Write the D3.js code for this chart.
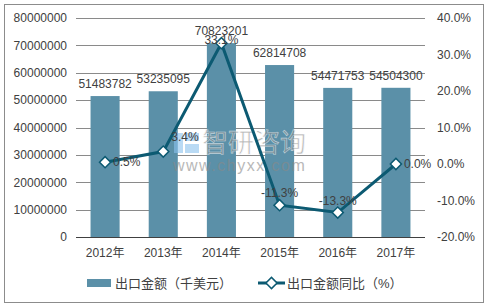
<!DOCTYPE html>
<html>
<head>
<meta charset="utf-8">
<script src="https://cdn.jsdelivr.net/npm/d3@7"></script>
<style>
  body { margin: 0; background: #fff; }
  text { font-family: "Liberation Sans", Arial, "Noto Sans CJK SC", sans-serif; fill: #404040; }
</style>
</head>
<body>
<div id="chart"></div>
<script>
// data
var years = ["2012年", "2013年", "2014年", "2015年", "2016年", "2017年"];
var exportValue = [51483782, 53235095, 70823201, 62814708, 54471753, 54504300];
var yoyPct = [0.5, 3.4, 33.1, -11.3, -13.3, 0.0];
var leftTicks = [0, 10000000, 20000000, 30000000, 40000000, 50000000, 60000000, 70000000, 80000000];
var rightTicks = [-20, -10, 0, 10, 20, 30, 40];
var legendNames = ["出口金额（千美元）", "出口金额同比（%）"];

// where each percentage label sits next to its marker
var labelPos = ["right", "rightUp", "top", "top", "top", "right"];

var W = 488, H = 307;
var barColor = "#5b90a8", lineColor = "#0c5a72";
var plot = {left: 76, right: 425, top: 18, bottom: 237};

var svg = d3.select("#chart").append("svg")
    .attr("width", W).attr("height", H);

svg.append("rect")
    .attr("x", 4.5).attr("y", 4.5)
    .attr("width", 479).attr("height", 298)
    .attr("fill", "#fff").attr("stroke", "#8c8c8c");

var x = d3.scaleBand().domain(years)
    .range([plot.left, plot.right])
    .paddingInner(0.5).paddingOuter(0.25);
var yL = d3.scaleLinear().domain([0, 80000000]).range([plot.bottom, plot.top]);
var yR = d3.scaleLinear().domain([-20, 40]).range([plot.bottom, plot.top]);

// grid
svg.append("g").selectAll("line").data(leftTicks.slice(1)).enter().append("line")
    .attr("x1", plot.left).attr("x2", plot.right)
    .attr("y1", function(d) { return Math.round(yL(d)) + 0.5; })
    .attr("y2", function(d) { return Math.round(yL(d)) + 0.5; })
    .attr("stroke", "#8a8a8a").attr("stroke-width", 1);

// left axis
var axL = svg.append("g").attr("transform", "translate(" + plot.left + ",0)")
    .call(d3.axisLeft(yL).tickValues(leftTicks).tickSize(0).tickPadding(9).tickFormat(d3.format("d")));
axL.select(".domain").remove();
axL.selectAll("text").style("font-size", "12px").attr("fill", "#404040");

// right axis
var axR = svg.append("g").attr("transform", "translate(" + plot.right + ",0)")
    .call(d3.axisRight(yR).tickValues(rightTicks).tickSize(0).tickPadding(12)
      .tickFormat(function(d) { return d.toFixed(1) + "%"; }));
axR.select(".domain").remove();
axR.selectAll("text").style("font-size", "12px").attr("fill", "#404040");

// bottom axis
var axB = svg.append("g").attr("transform", "translate(0," + (plot.bottom + 0.5) + ")")
    .call(d3.axisBottom(x).tickSize(0).tickPadding(11).tickSizeOuter(0));
axB.select(".domain").attr("stroke", "#404040").attr("d", "M" + plot.left + ",0H" + plot.right);
axB.selectAll("text").style("font-size", "12px").attr("fill", "#404040");

// bars
svg.append("g").selectAll("rect").data(exportValue).enter().append("rect")
    .attr("x", function(d, i) { return x(years[i]); })
    .attr("width", x.bandwidth())
    .attr("y", function(d) { return yL(d); })
    .attr("height", function(d) { return plot.bottom - yL(d); })
    .attr("fill", barColor);

svg.append("g").selectAll("text").data(exportValue).enter().append("text")
    .attr("x", function(d, i) { return x(years[i]) + x.bandwidth() / 2; })
    .attr("y", function(d) { return yL(d) - 8; })
    .attr("text-anchor", "middle")
    .style("font-size", "12px")
    .text(function(d) { return d; });

// watermark
var wm = svg.append("g").attr("opacity", 0.6);
wm.append("rect").attr("x", 174).attr("y", 133).attr("width", 9).attr("height", 20).attr("fill", "#8cc3ee");
wm.append("rect").attr("x", 185).attr("y", 133).attr("width", 14).attr("height", 8).attr("fill", "#8cc3ee");
wm.append("rect").attr("x", 185).attr("y", 144).attr("width", 14).attr("height", 9).attr("fill", "#8cc3ee");
wm.append("text").attr("x", 202).attr("y", 152)
    .style("font-size", "26px").style("fill", "#8a8a8a")
    .style("stroke", "#fff").style("stroke-width", 0.6).text("智研咨询");
wm.append("text").attr("x", 173).attr("y", 171)
    .style("font-size", "16px").style("fill", "#8a8a8a").style("letter-spacing", "1.5px")
    .text("www.chyxx.com");

// line
var cx = function(i) { return x(years[i]) + x.bandwidth() / 2; };
var line = d3.line()
    .x(function(d, i) { return cx(i); })
    .y(function(d) { return yR(d); });

svg.append("path").datum(yoyPct)
    .attr("d", line)
    .attr("fill", "none").attr("stroke", lineColor).attr("stroke-width", 3);

var diamond = d3.symbol().type(d3.symbolSquare).size(62);
svg.append("g").selectAll("path").data(yoyPct).enter().append("path")
    .attr("d", diamond)
    .attr("transform", function(d, i) { return "translate(" + cx(i) + "," + yR(d) + ") rotate(45)"; })
    .attr("fill", "#fff").attr("stroke", lineColor).attr("stroke-width", 1.5);

svg.append("g").selectAll("text").data(yoyPct).enter().append("text")
    .attr("x", function(d, i) {
      return labelPos[i] === "top" ? cx(i) : cx(i) + 8;
    })
    .attr("y", function(d, i) {
      var p = labelPos[i];
      if (p === "top") return Math.max(yR(d) - 8, 44);
      if (p === "rightUp") return yR(d) - 11;
      return yR(d) + 4;
    })
    .attr("text-anchor", function(d, i) { return labelPos[i] === "top" ? "middle" : "start"; })
    .style("font-size", "12px")
    .text(function(d) { return d.toFixed(1) + "%"; });

// legend
var lg = svg.append("g").attr("transform", "translate(0,283)");
lg.append("rect").attr("x", 87).attr("y", -4).attr("width", 24).attr("height", 8).attr("fill", barColor);
lg.append("text").attr("x", 115).attr("y", 5).style("font-size", "13px").text(legendNames[0]);
lg.append("line").attr("x1", 258).attr("x2", 285).attr("y1", 0).attr("y2", 0)
    .attr("stroke", lineColor).attr("stroke-width", 3);
lg.append("path").attr("d", diamond).attr("transform", "translate(271.5,0) rotate(45)")
    .attr("fill", "#fff").attr("stroke", lineColor).attr("stroke-width", 1.5);
lg.append("text").attr("x", 287).attr("y", 5).style("font-size", "13px").text(legendNames[1]);
</script>
</body>
</html>
